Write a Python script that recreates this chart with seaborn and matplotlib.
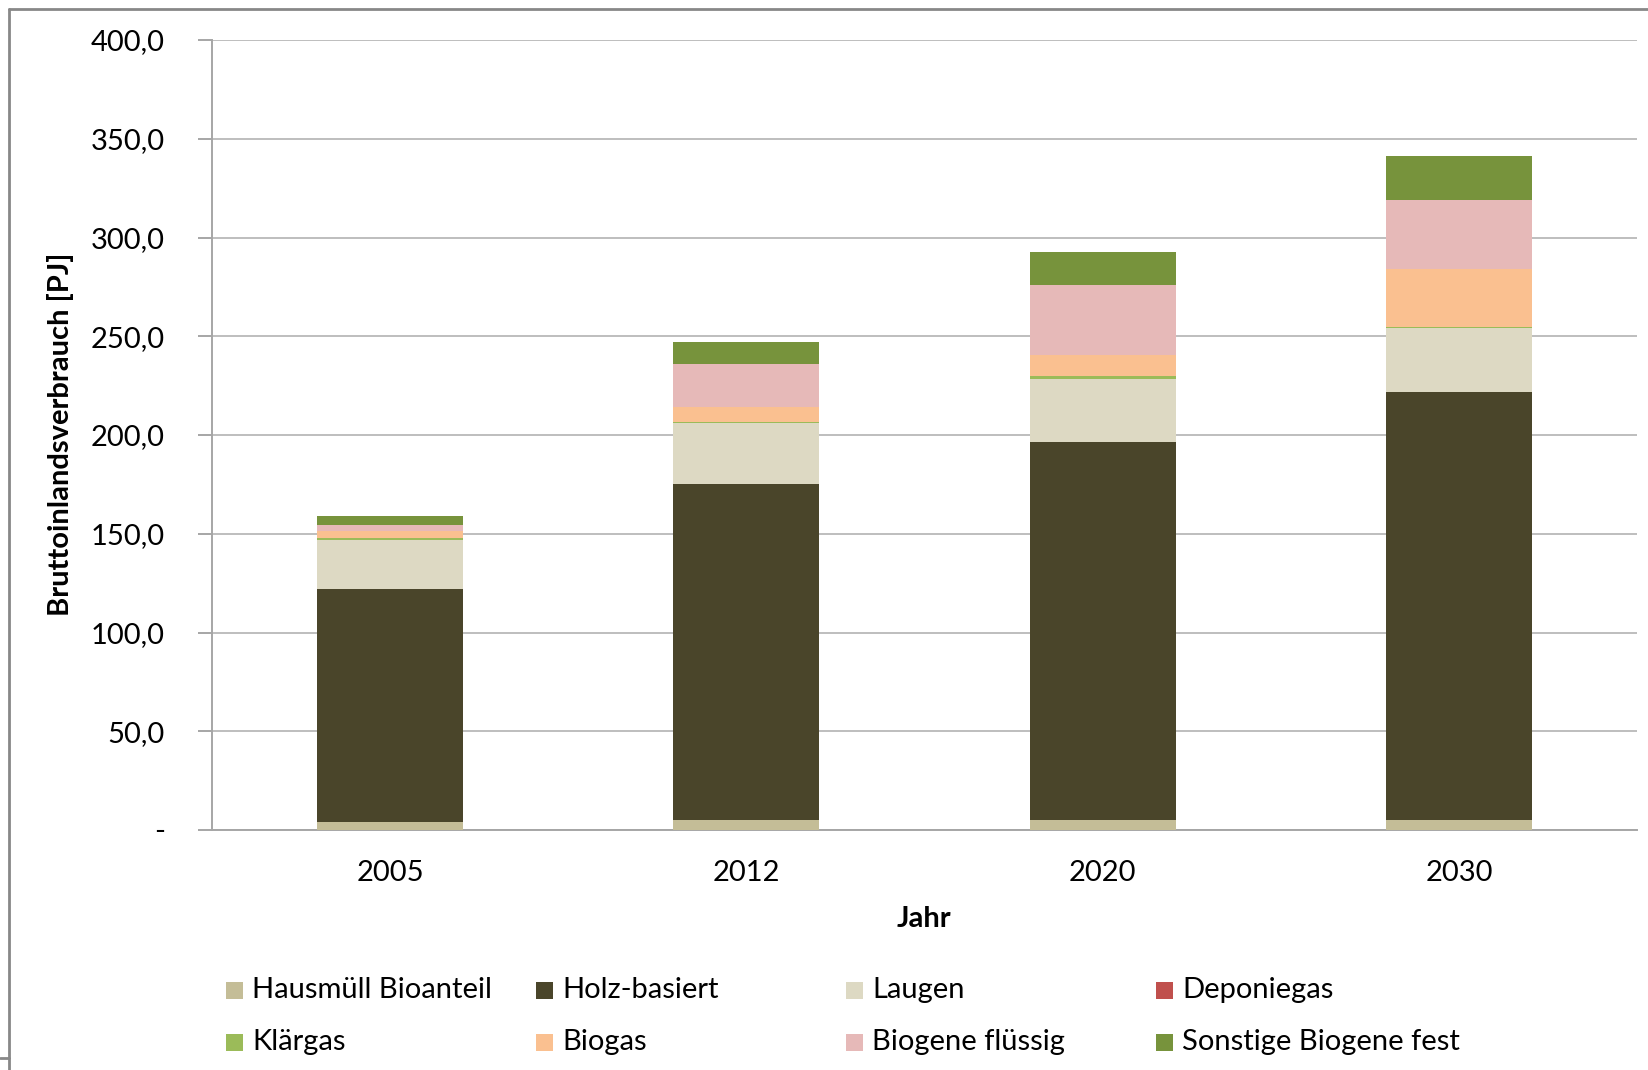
import matplotlib
matplotlib.use("Agg")
import matplotlib.pyplot as plt
from matplotlib.lines import Line2D
from matplotlib.patches import Rectangle
from matplotlib.ticker import FixedLocator, FuncFormatter
import numpy as np
import pandas as pd
import seaborn as sns

# Bruttoinlandsverbrauch Biomasse nach Energieträger [PJ]
years = ["2005", "2012", "2020", "2030"]
hausmuell = [3.8, 5.3, 5.3, 5.3]
holz = [118.0, 169.9, 191.4, 216.5]
laugen = [24.9, 30.7, 31.7, 32.4]
deponiegas = [0.1, 0.1, 0.1, 0.1]
klaergas = [1.1, 0.7, 1.3, 0.5]
biogas = [3.6, 7.4, 10.7, 29.1]
biogene_fluessig = [2.7, 22.0, 35.3, 35.1]
sonstige_fest = [4.7, 10.9, 16.8, 22.3]

series_names = ["Hausmüll Bioanteil", "Holz-basiert", "Laugen", "Deponiegas",
                "Klärgas", "Biogas", "Biogene flüssig", "Sonstige Biogene fest"]
series_values = [hausmuell, holz, laugen, deponiegas,
                 klaergas, biogas, biogene_fluessig, sonstige_fest]
series_colors = ["#C4BD97", "#4A452A", "#DDD9C3", "#C0504D",
                 "#9BBB59", "#FAC090", "#E6B9B8", "#77933C"]

y_ticks = [0, 50, 100, 150, 200, 250, 300, 350, 400]

sns.set_theme(style="white")
plt.rcParams["font.family"] = ["Lato", "DejaVu Sans"]

W, H = 1648, 1070
fig = plt.figure(figsize=(W / 100, H / 100), dpi=100)
ax = fig.add_axes([212 / W, 1 - 830 / H, (1637 - 212) / W, (830 - 40) / H])

# Stacked bars: draw cumulative totals from the top segment down
df = pd.DataFrame({name: vals for name, vals in zip(series_names, series_values)})
df["Jahr"] = years
cum = df[series_names].cumsum(axis=1)
for name, color in reversed(list(zip(series_names, series_colors))):
    sns.barplot(x=df["Jahr"], y=cum[name], color=color, width=0.41,
                saturation=1, linewidth=0, ax=ax, zorder=3)

ax.set_xlim(-0.5, 3.5)
ax.set_ylim(0, 400)
ax.set_xlabel("")
ax.set_ylabel("")

ax.yaxis.set_major_locator(FixedLocator(y_ticks))
ax.yaxis.set_major_formatter(FuncFormatter(
    lambda v, p: "-" if v == 0 else f"{v:.1f}".replace(".", ",")))
ax.grid(axis="y", color="#BEBEBE", linewidth=1.4, zorder=0)
ax.grid(axis="x", visible=False)

for side in ["top", "right"]:
    ax.spines[side].set_visible(False)
for side in ["left", "bottom"]:
    ax.spines[side].set_color("#A6A6A6")
    ax.spines[side].set_linewidth(1.4)

ax.set_xticks(range(len(years)))
ax.set_xticklabels(years)
ax.set_xticks(np.arange(-0.5, len(years), 1.0), minor=True)
ax.tick_params(axis="x", which="major", length=0, pad=21.5, labelsize=21, labelcolor="#000000")
ax.tick_params(axis="x", which="minor", length=10, width=1.4, color="#A6A6A6", direction="out")
ax.tick_params(axis="y", which="major", length=10, width=1.4, color="#A6A6A6",
               direction="out", left=True, pad=24, labelsize=21, labelcolor="#000000")

fig.text(61 / W, 1 - 434 / H, "Bruttoinlandsverbrauch [PJ]", rotation=90,
         ha="center", va="center", fontsize=21, fontweight="bold", color="#000000")
fig.text(924 / W, 1 - 919 / H, "Jahr", ha="center", va="center",
         fontsize=21, fontweight="bold", color="#000000")

# Legend: two rows of four entries, filled row by row
col_x = [226, 536, 846, 1156]
row_y = [990, 1042]
box = 17
for i, (name, color) in enumerate(zip(series_names, series_colors)):
    cx = col_x[i % 4]
    cy = row_y[i // 4]
    fig.add_artist(Rectangle((cx / W, 1 - (cy + box / 2) / H), box / W, box / H,
                             facecolor=color, edgecolor="none",
                             transform=fig.transFigure))
    fig.text((cx + box + 9) / W, 1 - cy / H, name, ha="left", va="center",
             fontsize=21, color="#000000")

# Chart frame
frame_kw = dict(color="#888888", linewidth=2, transform=fig.transFigure)
fig.add_artist(Line2D([9 / W, 1.0], [1 - 9 / H, 1 - 9 / H], **frame_kw))
fig.add_artist(Line2D([9 / W, 9 / W], [1 - 9 / H, 0.0], **frame_kw))
fig.add_artist(Line2D([0.0, 9 / W], [1 - 1058 / H, 1 - 1058 / H], **frame_kw))

fig.savefig("out.png", dpi=100)
